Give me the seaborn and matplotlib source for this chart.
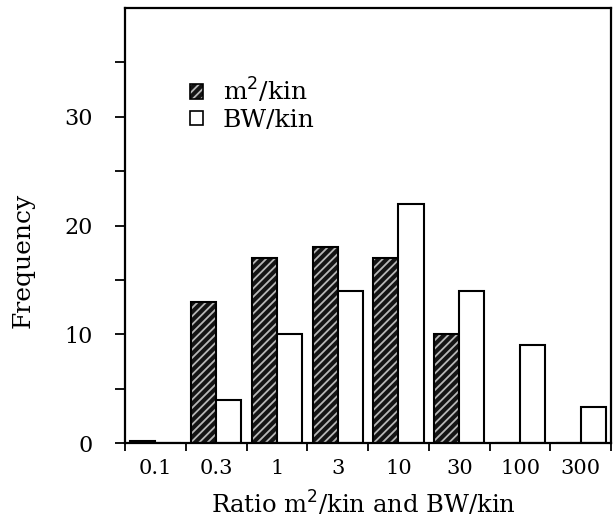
import numpy as np
import pandas as pd
import matplotlib
matplotlib.use("Agg")
import matplotlib.pyplot as plt
import seaborn as sns

# values
ratio_bins = ["0.1", "0.3", "1", "3", "10", "30", "100", "300"]
m2_kin = [0.2, 13, 17, 18, 17, 10, 0, 0]
bw_kin = [0, 4, 10, 14, 22, 14, 9, 3.3]
series = ["m$^2$/kin", "BW/kin"]

df = pd.DataFrame({
    "ratio": ratio_bins * 2,
    "freq": m2_kin + bw_kin,
    "series": [series[0]] * len(ratio_bins) + [series[1]] * len(ratio_bins),
})

sns.set_style("ticks")
plt.rcParams["font.family"] = ["DejaVu Serif"]
plt.rcParams["hatch.linewidth"] = 1.3
plt.rcParams["text.color"] = "black"
plt.rcParams["axes.labelcolor"] = "black"
plt.rcParams["xtick.color"] = "black"
plt.rcParams["ytick.color"] = "black"

HATCH = "////"
HATCH_COLOR = (0.72, 0.72, 0.72, 1.0)

fig = plt.figure(figsize=(6.13, 5.19), dpi=100)
ax = fig.add_axes([0.204, 0.146, 0.793, 0.839])

sns.barplot(data=df, x="ratio", y="freq", hue="series", order=ratio_bins,
            hue_order=series, palette=["#141414", "white"], width=0.83,
            edgecolor="black", linewidth=1.5, saturation=1, ax=ax, legend=True)

# hatch the dark bars (first hue level) with light diagonal lines
n = len(ratio_bins)
for p in ax.patches[:n]:
    p.set_hatch(HATCH)
    p._hatch_color = HATCH_COLOR

ax.set_xlim(-0.5, n - 0.5)
ax.set_ylim(0, 40)
ax.set_yticks([0, 10, 20, 30])
ax.set_yticks([5, 15, 25, 35], minor=True)
ax.tick_params(axis="y", which="both", direction="out", length=7, width=1.3,
               labelsize=16, right=False, pad=16)
ax.set_xticks(np.arange(n))
ax.set_xticklabels(ratio_bins)
ax.set_xticks(np.arange(-0.5, n), minor=True)
ax.tick_params(axis="x", which="major", length=0, labelsize=15, pad=11)
ax.tick_params(axis="x", which="minor", direction="out", length=6, width=1.3)

for s in ax.spines.values():
    s.set_visible(True)
    s.set_linewidth(1.6)
    s.set_color("black")

ax.set_xlabel("Ratio m$^2$/kin and BW/kin", fontsize=17.5)
ax.xaxis.set_label_coords(0.49, -0.106)
ax.set_ylabel("Frequency", fontsize=18)
ax.yaxis.set_label_coords(-0.187, 0.42)

leg = ax.legend(loc="upper left", bbox_to_anchor=(0.114, 0.866), frameon=False,
                fontsize=18, handlelength=0.5, handleheight=0.5,
                handletextpad=0.8, labelspacing=0.15, borderaxespad=0)
handles = leg.legend_handles if hasattr(leg, "legend_handles") else leg.legendHandles
handles[0].set_hatch(HATCH)
handles[0]._hatch_color = HATCH_COLOR
for h in handles:
    h.set_linewidth(1.2)

fig.savefig("out.png", dpi=100)
